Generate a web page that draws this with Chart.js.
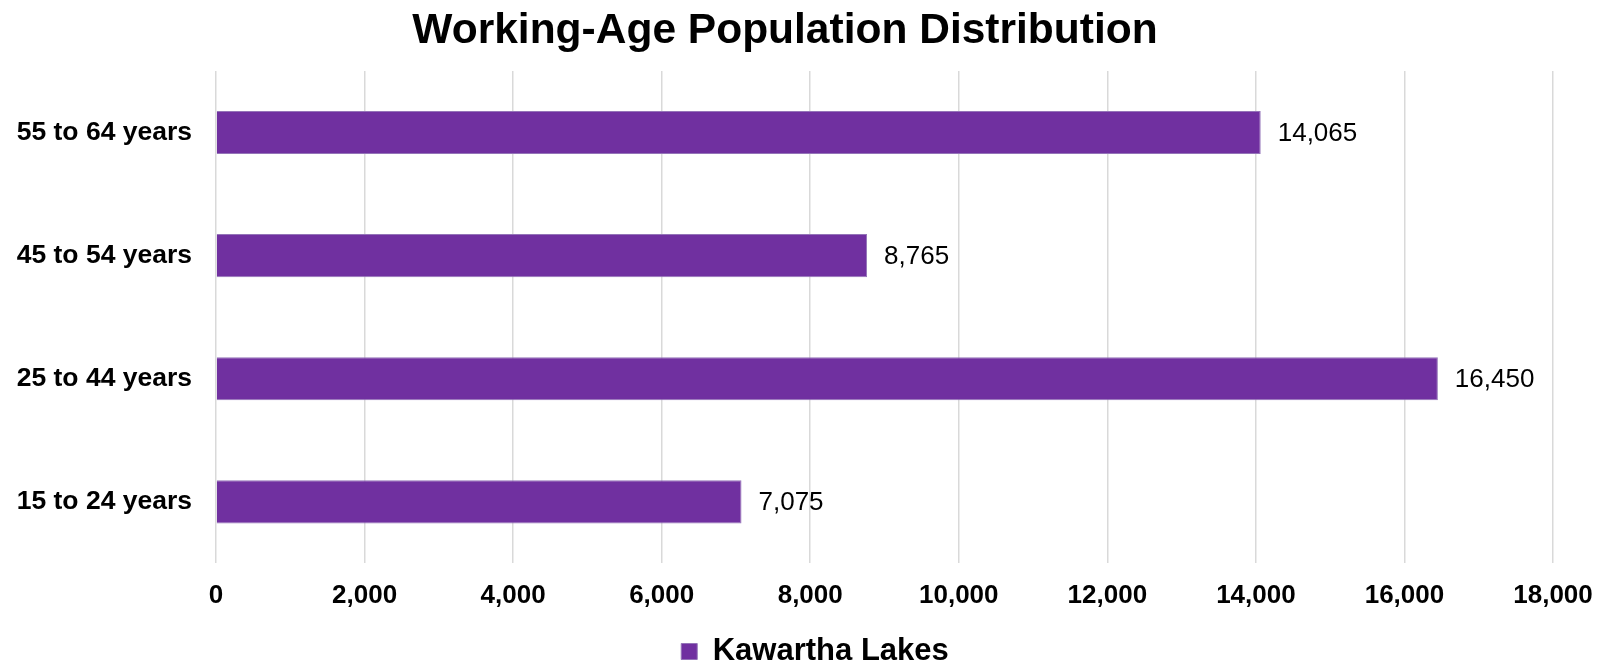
<!DOCTYPE html>
<html>
<head>
<meta charset="utf-8">
<script src="https://cdn.jsdelivr.net/npm/chart.js@4/dist/chart.umd.min.js"></script>
<style>
  html, body { margin: 0; padding: 0; background: #ffffff; }
  #wrap { width: 1599px; height: 665px; }
</style>
</head>
<body>
<div id="wrap"><canvas id="c" width="1599" height="665"></canvas></div>
<script>
const categories = ["55 to 64 years", "45 to 54 years", "25 to 44 years", "15 to 24 years"];
const seriesName = "Kawartha Lakes";
const values = [14065, 8765, 16450, 7075];
const xTicks = [0, 2000, 4000, 6000, 8000, 10000, 12000, 14000, 16000, 18000];

const FONT = "'Liberation Sans', Arial, sans-serif";
const PURPLE = "#7030A0";

const valueLabels = {
  id: "valueLabels",
  afterDatasetsDraw(chart) {
    const ctx = chart.ctx;
    ctx.save();
    ctx.font = "26px " + FONT;
    ctx.fillStyle = "#000000";
    ctx.textAlign = "left";
    ctx.textBaseline = "middle";
    const meta = chart.getDatasetMeta(0);
    meta.data.forEach((bar, i) => {
      const v = chart.data.datasets[0].data[i];
      ctx.fillText(v.toLocaleString("en-US"), bar.x + 17, bar.y + 1);
    });
    ctx.restore();
  }
};

const legendShift = {
  id: "legendShift",
  afterLayout(chart) {
    const lg = chart.legend;
    if (lg) {
      lg.left += 30;
      lg.right += 30;
      lg.top += 12;
      lg.bottom += 12;
    }
  }
};

new Chart(document.getElementById("c"), {
  type: "bar",
  data: {
    labels: categories,
    datasets: [{
      label: seriesName,
      data: values,
      backgroundColor: PURPLE,
      borderColor: "#9474b8",
      borderWidth: 1,
      barPercentage: 0.7,
      categoryPercentage: 0.5
    }]
  },
  options: {
    indexAxis: "y",
    responsive: false,
    animation: false,
    layout: { padding: { left: 17, right: 46, top: 0, bottom: 0 } },
    scales: {
      x: {
        min: 0,
        max: 18000,
        afterBuildTicks(axis) { axis.ticks = xTicks.map(v => ({ value: v })); },
        afterFit(axis) { axis.height = 52.6; },
        grid: { color: "#d9d9d9", lineWidth: 1.5, drawTicks: true, tickLength: 11, tickColor: "rgba(0,0,0,0)" },
        border: { display: false },
        ticks: {
          font: { family: FONT, size: 26, weight: "bold" },
          color: "#000000",
          padding: 6,
          maxRotation: 0,
          callback: (v) => Number(v).toLocaleString("en-US")
        }
      },
      y: {
        afterFit(axis) { axis.width = 199; },
        grid: { display: false, drawTicks: false },
        border: { display: false },
        ticks: {
          font: { family: FONT, size: 26.5, weight: "bold" },
          color: "#000000",
          padding: 24
        }
      }
    },
    plugins: {
      title: {
        display: true,
        text: "Working-Age Population Distribution",
        font: { family: FONT, size: 42.5, weight: "bold" },
        color: "#000000",
        padding: { top: 6, bottom: 14 }
      },
      legend: {
        display: true,
        position: "bottom",
        labels: {
          font: { family: FONT, size: 31, weight: "bold" },
          color: "#000000",
          boxWidth: 16,
          boxHeight: 16,
          padding: 8
        }
      },
      tooltip: { enabled: false }
    }
  },
  plugins: [valueLabels, legendShift]
});
</script>
</body>
</html>
